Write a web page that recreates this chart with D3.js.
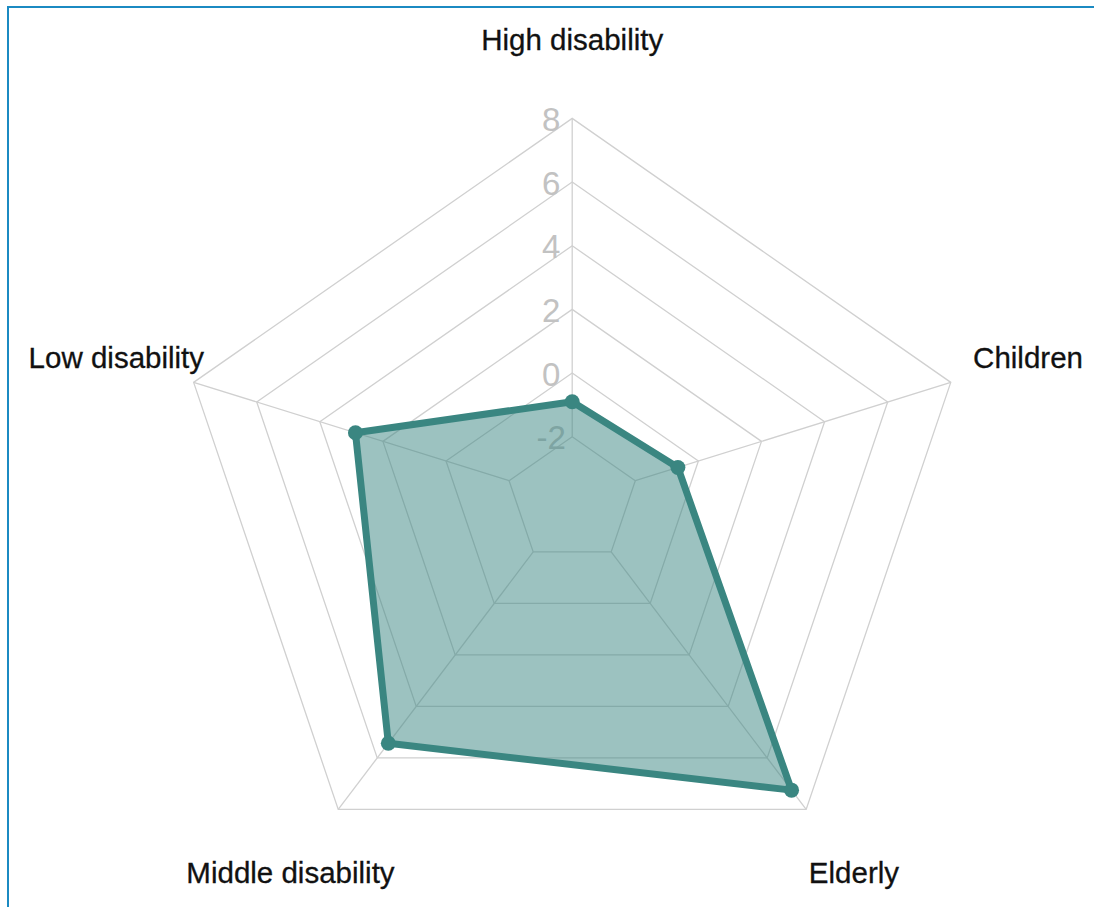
<!DOCTYPE html>
<html>
<head>
<meta charset="utf-8">
<script src="https://cdn.jsdelivr.net/npm/d3@7"></script>
<style>
  html, body { margin: 0; padding: 0; background: #fff; }
  svg { display: block; }
  text { font-family: Arial, "Liberation Sans", sans-serif; }
</style>
</head>
<body>
<svg id="chart" width="1094" height="907"></svg>
<script>
// ---- data ----
const categories = ["High disability", "Children", "Elderly", "Middle disability", "Low disability"];
const values = [-0.9, -0.65, 7.25, 5.43, 2.87];
const tickValues = [-2, 0, 2, 4, 6, 8];

// ---- layout ----
const W = 1094, H = 907;
const cx = 572.2, cy = 500.4;
const xStretch = 1.042;
const svg = d3.select("#chart");

const r = d3.scaleLinear().domain([-4, 8]).range([0, 382]);
const angle = d3.scaleLinear().domain([0, categories.length]).range([0, 2 * Math.PI]);

function pt(i, v) {
  const a = angle(i), rr = r(v);
  return [cx + xStretch * rr * Math.sin(a), cy - rr * Math.cos(a)];
}
function ptR(i, rr) {
  const a = angle(i);
  return [cx + xStretch * rr * Math.sin(a), cy - rr * Math.cos(a)];
}

// frame
svg.append("line").attr("x1", 8).attr("x2", 8).attr("y1", 6).attr("y2", H)
  .attr("stroke", "#1b8ac2").attr("stroke-width", 2);
svg.append("line").attr("x1", 7).attr("x2", W).attr("y1", 7).attr("y2", 7)
  .attr("stroke", "#1b8ac2").attr("stroke-width", 2);

const g = svg.append("g");
const line = d3.line().curve(d3.curveLinearClosed);

// grid pentagons
tickValues.forEach(t => {
  g.append("path")
    .attr("d", line(categories.map((c, i) => pt(i, t))))
    .attr("fill", "none").attr("stroke", "#d0d0d0").attr("stroke-width", 1.3);
});
// spokes
categories.forEach((c, i) => {
  const a = pt(i, tickValues[0]), b = pt(i, tickValues[tickValues.length - 1]);
  g.append("line").attr("x1", a[0]).attr("y1", a[1]).attr("x2", b[0]).attr("y2", b[1])
    .attr("stroke", "#d0d0d0").attr("stroke-width", 1.3);
});

// tick labels
tickValues.forEach(t => {
  const p = pt(0, t);
  g.append("text").attr("x", p[0] - 21).attr("y", p[1] + 1)
    .attr("text-anchor", "middle").attr("dominant-baseline", "central")
    .attr("font-size", 33).attr("fill", "#c2c2c2").text(t);
});

// axis labels
categories.forEach((c, i) => {
  const p = ptR(i, 460);
  g.append("text").attr("x", p[0]).attr("y", p[1] + 10)
    .attr("text-anchor", "middle")
    .attr("font-size", 29.5).attr("fill", "#111")
    .attr("stroke", "#111").attr("stroke-width", 0.3).text(c);
});

// data polygon
const pts = values.map((v, i) => pt(i, v));
g.append("path").attr("d", line(pts))
  .attr("fill", "#3a8681").attr("fill-opacity", 0.5)
  .attr("stroke", "#3a8681").attr("stroke-width", 7).attr("stroke-linejoin", "round");
g.selectAll("circle.pt").data(pts).enter().append("circle")
  .attr("cx", d => d[0]).attr("cy", d => d[1]).attr("r", 7.5)
  .attr("fill", "#3a8681");
</script>
</body>
</html>
